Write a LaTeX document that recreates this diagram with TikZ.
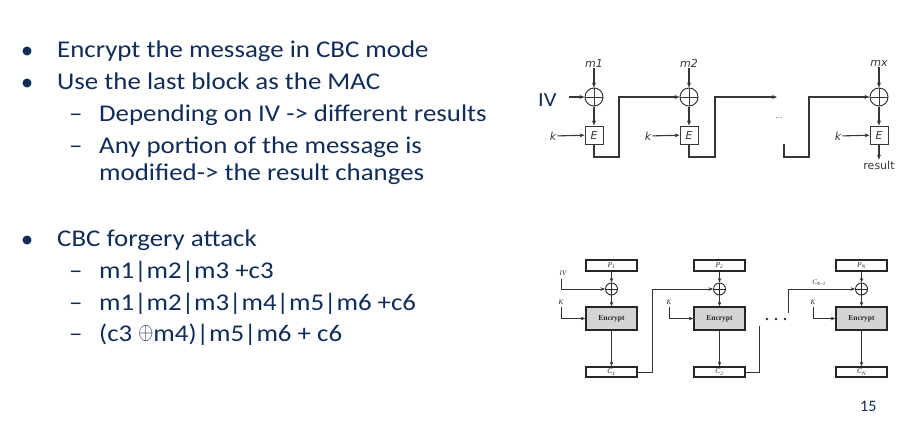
\documentclass[tikz,border=0pt]{standalone}
\usepackage{graphicx}
\usepackage{fontspec}
\setmainfont{Carlito}[FakeStretch=1.12]
\newfontfamily\plainfont{Carlito}
\newfontfamily\diagsans{DejaVu Sans}
\newfontfamily\diagserif{Liberation Serif}
\usetikzlibrary{arrows.meta}
\definecolor{navy}{RGB}{16,44,88}
\definecolor{wire}{RGB}{55,55,55}
\newcommand{\bigxor}{\raisebox{1.75pt}{\resizebox{15pt}{14pt}{$\oplus$}}}
\begin{document}
\begin{tikzpicture}[x=1pt,y=-1pt,
  bul/.style={circle,fill=navy,inner sep=0pt,minimum size=9pt},
  txt/.style={anchor=base west,text=navy,inner sep=0pt,font=\fontsize{24}{27}\selectfont},
  pagenum/.style={anchor=base west,text=navy,inner sep=0pt,font=\plainfont\fontsize{16}{18}\selectfont},
  % chained cipher (top)
  wireT/.style={draw=wire,line width=1.1pt},
  arrT/.style={wireT,-{Stealth[length=5pt,width=4pt]}},
  lblT/.style={inner sep=1pt,text=wire,font=\diagsans\itshape\fontsize{11}{12}\selectfont},
  xorT/.style={circle,draw=wire,line width=1pt,minimum size=18pt,inner sep=0pt,
    path picture={\draw[wire,line width=0.9pt]
      (path picture bounding box.north) -- (path picture bounding box.south)
      (path picture bounding box.west) -- (path picture bounding box.east);}},
  encT/.style={draw=wire,line width=1pt,minimum size=18pt,inner sep=0pt,text=wire,
    font=\diagsans\itshape\fontsize{11}{12}\selectfont},
  % CBC block diagram (bottom)
  wireB/.style={draw=black!80,line width=0.9pt},
  arrB/.style={wireB,-{Stealth[length=4.5pt,width=3.5pt]}},
  lblB/.style={inner sep=0.5pt,text=black!85,font=\diagserif\itshape\fontsize{7}{8}\selectfont},
  dataB/.style={draw=black!85,line width=1.4pt,minimum width=51pt,minimum height=11pt,inner sep=0pt,
    text=black!85,font=\diagserif\itshape\fontsize{7.5}{8}\selectfont},
  encB/.style={draw=black!85,fill=black!17,line width=1.4pt,minimum width=51pt,minimum height=23pt,
    inner sep=0pt,text=black!85,font=\diagserif\bfseries\fontsize{7.5}{8}\selectfont},
  xorB/.style={circle,draw=black!85,line width=0.9pt,minimum size=12pt,inner sep=0pt,
    path picture={\draw[black!85,line width=0.8pt]
      (path picture bounding box.north) -- (path picture bounding box.south)
      (path picture bounding box.west) -- (path picture bounding box.east);}},
]
\useasboundingbox (0,0) rectangle (913,424);

% ---------------- bullet text ----------------
\node[bul] (b1) at (27,51) {};
\node[txt] (t1) at (57,57) {Encrypt the message in CBC mode};
\node[bul] (b2) at (27,83) {};
\node[txt] (t2) at (57,89) {Use the last block as the MAC};
\node[txt] (d3) at (69,121.7) {–};
\node[txt] (t3) at (99,121.7) {Depending on IV -> different results};
\node[txt] (d4) at (69,153.3) {–};
\node[txt] (t4) at (99,153.3) {Any portion of the message is};
\node[txt] (t5) at (99,180) {modified-> the result changes};

\node[bul] (b3) at (27,240) {};
\node[txt] (t6) at (57,246) {CBC forgery attack};
\node[txt] (d7) at (69,278.3) {–};
\node[txt] (t7) at (99,278.3) {m1|m2|m3 +c3};
\node[txt] (d8) at (69,310) {–};
\node[txt] (t8) at (99,310) {m1|m2|m3|m4|m5|m6 +c6};
\node[txt] (d9) at (69,341.7) {–};
\node[txt] (t9) at (99,341.7) {(c3 \bigxor m4)|m5|m6 + c6};

\node[pagenum] (pg) at (860,411) {15};

% ---------------- chained cipher (top) ----------------
\node[lblT] (m1) at (594,63) {m1};
\node[lblT] (m2) at (689,63) {m2};
\node[lblT] (mx) at (879,63) {mx};
\node[xorT] (x1) at (594,97) {};
\node[xorT] (x2) at (689,97) {};
\node[xorT] (x3) at (879,97) {};
\node[encT] (e1) at (594,135) {E};
\node[encT] (e2) at (689,135) {E};
\node[encT] (e3) at (879,135) {E};
\node[lblT] (k1) at (553,136) {k};
\node[lblT] (k2) at (648,136) {k};
\node[lblT] (k3) at (838,136) {k};
\node[anchor=base west,inner sep=0pt,text=navy,font=\fontsize{20}{22}\selectfont] (iv) at (538,106.5) {IV};
\node[lblT,font=\diagsans\fontsize{7}{8}\selectfont] (dots) at (779,118) {...};
\node[lblT,font=\diagsans\fontsize{11}{12}\selectfont] (res) at (879,165) {result};

\coordinate (ivs) at (569,97);
\coordinate (c1) at (619,157);
\coordinate (c2) at (715,157);
\coordinate (gap) at (777,97);
\coordinate (s3) at (784,144);
\coordinate (c3) at (809,157);

\draw[arrT] (m1) -- (x1);
\draw[arrT] (m2) -- (x2);
\draw[arrT] (mx) -- (x3);
\draw[arrT] (x1) -- (e1);
\draw[arrT] (x2) -- (e2);
\draw[arrT] (x3) -- (e3);
\draw[arrT] (k1) -- (e1);
\draw[arrT] (k2) -- (e2);
\draw[arrT] (k3) -- (e3);
\draw[arrT] (ivs) -- (x1);
\draw[arrT] (e1.south) |- (c1) |- (x2.west);
\draw[arrT] (e2.south) |- (c2) |- (gap);
\draw[arrT] (s3) |- (c3) |- (x3.west);
\draw[arrT] (e3) -- (res);

% ---------------- CBC block diagram (bottom) ----------------
\node[dataB] (p1) at (611.5,265.5) {P\textsubscript{1}};
\node[dataB] (p2) at (719.5,265.5) {P\textsubscript{2}};
\node[dataB] (pn) at (861.5,265.5) {P\textsubscript{N}};
\node[xorB] (bx1) at (611.5,289) {};
\node[xorB] (bx2) at (719.5,289) {};
\node[xorB] (bx3) at (861.5,289) {};
\node[encB] (en1) at (611.5,318.5) {Encrypt};
\node[encB] (en2) at (719.5,318.5) {Encrypt};
\node[encB] (en3) at (861.5,318.5) {Encrypt};
\node[dataB,minimum height=10pt] (cc1) at (611.5,372) {C\textsubscript{1}};
\node[dataB,minimum height=10pt] (cc2) at (719.5,372) {C\textsubscript{2}};
\node[dataB,minimum height=10pt] (ccn) at (861.5,372) {C\textsubscript{N}};

\node[lblB] (ivb) at (563,273) {IV};
\node[lblB] (kb1) at (561,302) {K};
\node[lblB] (kb2) at (669,302) {K};
\node[lblB] (kb3) at (813,302) {K};
\node[lblB] (cprev) at (819,283) {C\textsubscript{N–1}};

\coordinate (ivl) at (561,279);
\coordinate (kl1) at (561,307);
\coordinate (kl2) at (669,307);
\coordinate (kl3) at (813,307);
\coordinate (j1) at (652,289);
\coordinate (j2) at (759,326);
\coordinate (j3) at (788,313);

\foreach \p/\x/\e/\c in {p1/bx1/en1/cc1, p2/bx2/en2/cc2, pn/bx3/en3/ccn}{
  \draw[arrB] (\p) -- (\x);
  \draw[arrB] (\x) -- (\e);
  \draw[arrB] (\e) -- (\c);
}
\draw[arrB] (ivl) |- (bx1.west);
\draw[arrB] (kl1) |- (en1.west);
\draw[arrB] (kl2) |- (en2.west);
\draw[arrB] (kl3) |- (en3.west);
\draw[arrB] (cc1.east) -| (j1) -- (bx2.west);
\draw[wireB] (cc2.east) -| (j2);
\draw[arrB] (j3) |- (bx3.west);

\foreach \d in {767,776,785}{ \fill[black!85] (\d,319) circle (1.3pt); }
\end{tikzpicture}
\end{document}
